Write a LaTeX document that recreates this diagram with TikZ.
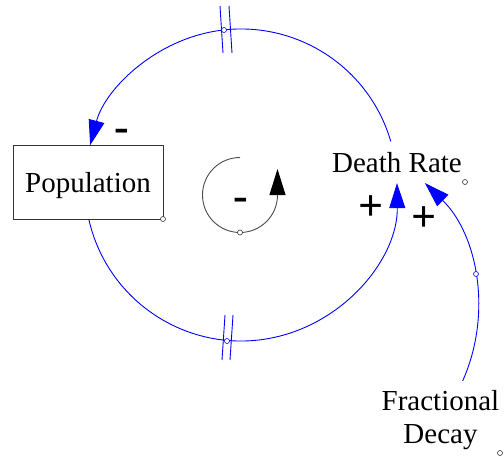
\documentclass[tikz,border=0pt]{standalone}
\usepackage{fontspec}
\newfontfamily\diagfont{LiberationSerif}[Extension=.ttf, UprightFont=*-Regular, BoldFont=*-Bold]
\usetikzlibrary{arrows.meta,calc}
\begin{document}
\begin{tikzpicture}[x=1pt,y=-1pt,
  link/.style={draw=blue, line width=0.9pt, -{Triangle[length=25pt,width=16pt]}},
  loopline/.style={draw=black!70, line width=0.9pt, -{Triangle[length=26pt,width=16pt,color=black]}},
  lbl/.style={font=\diagfont\fontsize{29}{33}\selectfont, inner sep=0pt},
  pol/.style={font=\diagfont\fontsize{44}{44}\selectfont\bfseries, inner sep=0pt, anchor=base},
  dot/.style={circle, draw=#1, fill=white, inner sep=0pt, minimum size=5pt, line width=0.6pt},
  dot/.default=black!80,
  bar/.style={draw=blue, line width=0.9pt}]
\useasboundingbox (0,0) rectangle (504,456);
\fill[white] (0,0) rectangle (504,456);

% stocks and variables
\node[draw=black!80, line width=0.9pt, lbl, minimum width=150pt, text height=47pt, text depth=27pt, align=center, text width=150pt] (pop) at (88,145) [anchor=north] {Population};
\node[lbl, anchor=base] (dr) at (397,172) {Death Rate};
\node[lbl, anchor=north, align=center] (fd) at (440.5,390) {Fractional\\Decay};

% small handles
\node[dot] (popc) at (163,219) {};
\node[dot] (drc) at (465,182) {};
\node[dot] (fdc) at (500,453) {};

% big loop geometry
\coordinate (c1) at (241,185);
\coordinate (drtop) at ($(c1)+(-16.2:156)$);
\coordinate (popbot) at ($(c1)+(167.3:156)$);
\coordinate (c2) at (302,309);
\coordinate (fdtop) at ($(c2)+(24.1:176)$);

% Death Rate -> Population (top, delayed)
\draw[link] (drtop) arc[start angle=-16.2, end angle=-165.2, radius=156];
% Population -> Death Rate (bottom, delayed)
\draw[link] (popbot) arc[start angle=167.3, end angle=-0.7, radius=156];
% Fractional Decay -> Death Rate
\draw[link] (fdtop) arc[start angle=24.1, end angle=-45.7, radius=176];

% delay marks
\draw[bar] (220,6) -- (223,53);
\draw[bar] (229,6) -- (232,53);
\draw[bar] (225,315) -- (222,360);
\draw[bar] (233,315) -- (230,360);

% handles on arcs
\node[dot=blue] (h1) at (224,30) {};
\node[dot=blue] (h2) at (227,341) {};
\node[dot=blue] (h3) at (476,274) {};

% loop symbol
\coordinate (lc) at (240,195);
\draw[loopline] ($(lc)+(-90:37.5)$) arc[start angle=-90, end angle=-360, radius=37.5] -- ++(0,-26);
\node[dot] (lcd) at (240,232.5) {};

% polarities
\node[pol] (m1) at (122,141.5) {-};
\node[pol] (m2) at (240.5,210) {-};
\node[pol] (p1) at (371,220) {+};
\node[pol] (p2) at (424,231) {+};
\end{tikzpicture}
\end{document}
